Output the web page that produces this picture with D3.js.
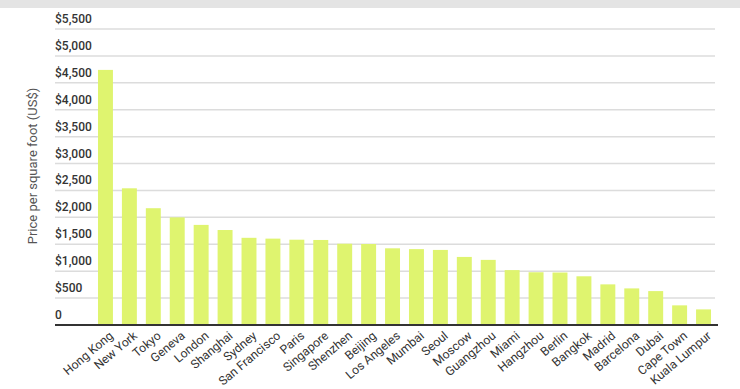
<!DOCTYPE html>
<html>
<head>
<meta charset="utf-8">
<script src="https://cdn.jsdelivr.net/npm/d3@7"></script>
<style>
  body { margin: 0; background: #fff; }
  svg { display: block; font-family: Roboto, "Noto Sans", sans-serif; }
</style>
</head>
<body>
<script>
// Data
const cities = ['Hong Kong', 'New York', 'Tokyo', 'Geneva', 'London', 'Shanghai', 'Sydney',
  'San Francisco', 'Paris', 'Singapore', 'Shenzhen', 'Beijing', 'Los Angeles', 'Mumbai',
  'Seoul', 'Moscow', 'Guangzhou', 'Miami', 'Hangzhou', 'Berlin', 'Bangkok', 'Madrid',
  'Barcelona', 'Dubai', 'Cape Town', 'Kuala Lumpur'];
const prices = [4740, 2540, 2170, 2000, 1860, 1765, 1620, 1605, 1585, 1580, 1510, 1505,
  1425, 1410, 1395, 1265, 1210, 1020, 980, 975, 905, 755, 680, 630, 365, 290];
const yTicks = [0, 500, 1000, 1500, 2000, 2500, 3000, 3500, 4000, 4500, 5000, 5500];
const yTitle = 'Price per square foot (US$)';

const width = 740;
const height = 389;

const svg = d3.select('body')
  .append('svg')
    .attr('width', width)
    .attr('height', height);

// Top band
svg.append('rect')
    .attr('x', 0)
    .attr('y', 0)
    .attr('width', width)
    .attr('height', 8)
    .attr('fill', '#e4e4e4');

// Scales
const x = d3.scaleBand()
  .domain(cities)
  .range([93.5, 715.5])
  .paddingInner(0.375)
  .paddingOuter(0.1875);

const y = d3.scaleLinear()
  .domain([0, 5500])
  .range([325, 29]);

// Grid lines + labels
const grid = svg.append('g')
  .selectAll('g')
    .data(yTicks)
  .enter().append('g')
    .attr('transform', (d) => `translate(0, ${y(d)})`);

grid.filter((d) => d > 0).append('line')
    .attr('x1', 55)
    .attr('x2', 715)
    .attr('stroke', '#dcdcdc')
    .attr('stroke-width', 1.5);

grid.append('text')
    .attr('x', 55)
    .attr('y', -6)
    .attr('fill', '#333')
    .attr('font-size', 12)
    .attr('font-weight', 500)
    .text((d) => d === 0 ? '0' : '$' + d3.format(',')(d));

// Bars
svg.selectAll('rect.bar')
    .data(cities)
  .enter().append('rect')
    .attr('class', 'bar')
    .attr('x', (d) => x(d))
    .attr('width', x.bandwidth())
    .attr('y', (d, i) => y(prices[i]))
    .attr('height', (d, i) => y(0) - y(prices[i]))
    .attr('fill', '#dff46f');

// Baseline
svg.append('line')
    .attr('x1', 55)
    .attr('x2', 718)
    .attr('y1', y(0))
    .attr('y2', y(0))
    .attr('stroke', '#333')
    .attr('stroke-width', 2);

// X labels
svg.append('g')
  .selectAll('text')
    .data(cities)
  .enter().append('text')
    .attr('transform', (d) => `translate(${x(d) + x.bandwidth() / 2 + 8.5}, 337) rotate(-40)`)
    .attr('text-anchor', 'end')
    .attr('fill', '#333')
    .attr('font-size', 12.2)
    .text((d) => d);

// Y title
svg.append('text')
    .attr('transform', 'translate(37, 166) rotate(-90)')
    .attr('text-anchor', 'middle')
    .attr('fill', '#555')
    .attr('font-size', 13)
    .text(yTitle);
</script>
</body>
</html>
